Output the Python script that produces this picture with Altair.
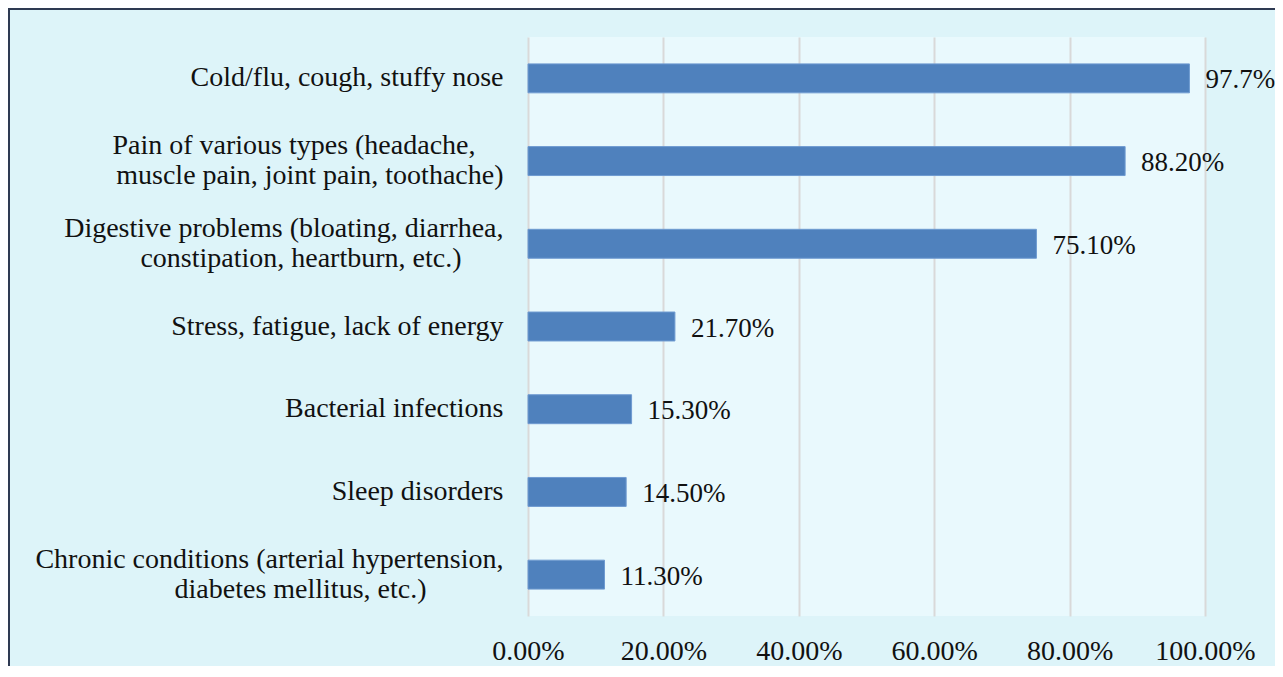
import altair as alt
import pandas as pd

# ---- data ----
categories = [
    ["Cold/flu, cough, stuffy nose"],
    ["Pain of various types (headache,", "muscle pain, joint pain, toothache)"],
    ["Digestive problems (bloating, diarrhea,", "constipation, heartburn, etc.)"],
    ["Stress, fatigue, lack of energy"],
    ["Bacterial infections"],
    ["Sleep disorders"],
    ["Chronic conditions (arterial hypertension,", "diabetes mellitus, etc.)"],
]
values = [0.977, 0.882, 0.751, 0.217, 0.153, 0.145, 0.113]
value_labels = ["97.7%", "88.20%", "75.10%", "21.70%", "15.30%", "14.50%", "11.30%"]
x_ticks = [0, 0.2, 0.4, 0.6, 0.8, 1.0]

# ---- typesetting: trailing no-break spaces so wrapped lines sit as in the original ----
# (a zero-width space closes each padded line so the renderer's trim() keeps the padding)
line_pad = [[0], [4, 0], [0, 6], [0], [0], [0], [0, 11]]
NBSP = "\u00a0"
ZWSP = "\u200b"


def pad_line(line, p):
    return line + NBSP * p + ZWSP if p else line


cat_text = [
    "\n".join(pad_line(line, p) for line, p in zip(lines, pads))
    for lines, pads in zip(categories, line_pad)
]

df = pd.DataFrame({"cat": cat_text, "value": values, "label": value_labels})

FONT = "Liberation Serif"
FS = 28
FS_VAL = 27
TXT = "#111111"

W, H = 677, 579
PAD_L, PAD_T = 520, 29
TOTAL_W, TOTAL_H = 1267, 658

y_enc = alt.Y(
    "cat:N",
    sort=None,
    scale=alt.Scale(paddingInner=0.65, paddingOuter=0.325),
    axis=alt.Axis(
        title=None,
        domain=False,
        ticks=False,
        labelPadding=25,
        labelLimit=0,
        labelFont=FONT,
        labelFontSize=FS,
        labelColor=TXT,
        labelLineHeight=30,
        labelOffset={
            "condition": {"test": "indexof(datum.value, '\\n') >= 0", "value": -15},
            "value": 0,
        },
        labelExpr="split(datum.label, '\\n')",
    ),
)

x_enc = alt.X(
    "value:Q",
    scale=alt.Scale(domain=[0, 1]),
    axis=alt.Axis(
        title=None,
        values=x_ticks,
        format=".2%",
        domain=False,
        ticks=False,
        grid=True,
        gridColor="#d9d9d9",
        gridWidth=2,
        labelPadding=21,
        labelFlush=False,
        labelOverlap=False,
        labelBound=False,
        labelFont=FONT,
        labelFontSize=FS,
        labelColor=TXT,
    ),
)

bars = alt.Chart(df).mark_bar(
    color="#4f81bd", stroke="#6f9bd1", strokeWidth=1
).encode(x=x_enc, y=y_enc)

texts = alt.Chart(df).mark_text(
    align="left", baseline="middle", dx=16, dy=2,
    font=FONT, fontSize=FS_VAL, color=TXT,
).encode(x="value:Q", y=alt.Y("cat:N", sort=None), text="label:N")

border_df = pd.DataFrame({"k": [0]})
left_border = alt.Chart(border_df).mark_rule(color="#2e3a52", strokeWidth=2).encode(
    x=alt.value(-PAD_L + 1), y=alt.value(-PAD_T), y2=alt.value(TOTAL_H - PAD_T)
)
top_border = alt.Chart(border_df).mark_rule(color="#2e3a52", strokeWidth=2).encode(
    y=alt.value(-PAD_T + 1), x=alt.value(-PAD_L), x2=alt.value(TOTAL_W - PAD_L)
)

chart = alt.layer(bars, texts, left_border, top_border).properties(
    width=W,
    height=H,
    autosize=alt.AutoSizeParams(type="none"),
    padding={"left": PAD_L, "top": PAD_T, "right": TOTAL_W - PAD_L - W, "bottom": TOTAL_H - PAD_T - H},
    background="#ddf4f9",
).configure_view(fill="#e9f9fd", strokeWidth=0)

chart.save("out.html", embed_options={"renderer": "svg", "actions": False})
